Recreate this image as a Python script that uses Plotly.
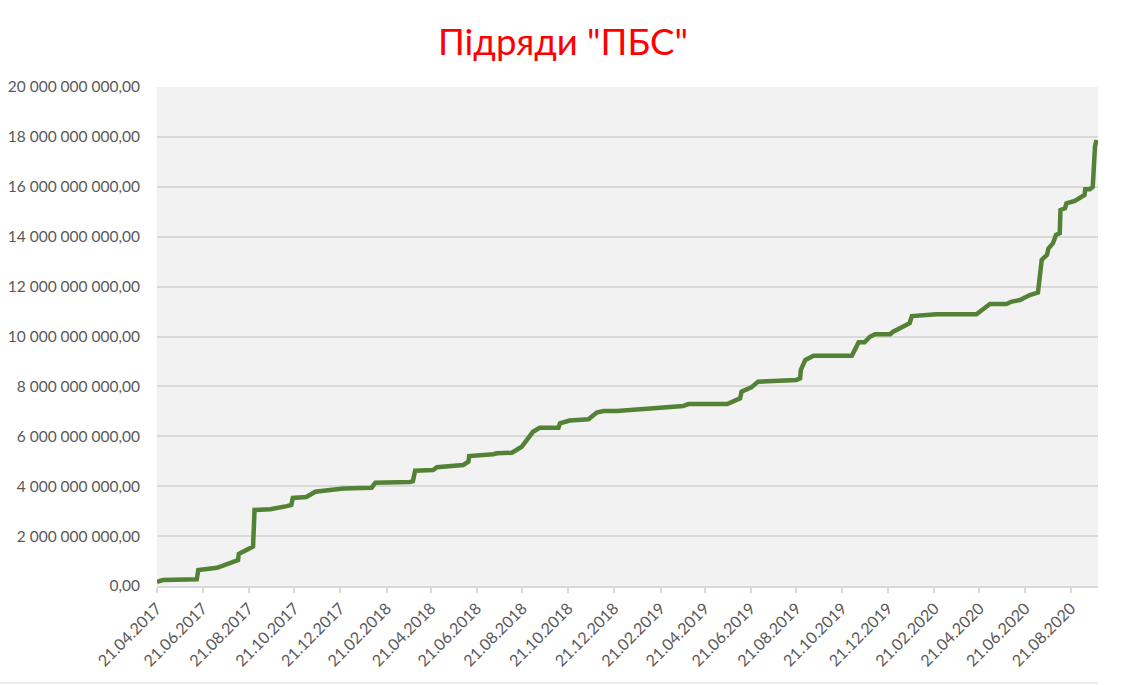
import plotly.graph_objects as go

# data (date, cumulative value in UAH)
dates = [
    "2017-04-21", "2017-04-29", "2017-06-13", "2017-06-15", "2017-07-10", "2017-08-07",
    "2017-08-08", "2017-08-27", "2017-08-29", "2017-09-19", "2017-10-11", "2017-10-17",
    "2017-10-19", "2017-11-06", "2017-11-18", "2017-12-08", "2017-12-25", "2018-02-01",
    "2018-02-06", "2018-03-24", "2018-03-28", "2018-03-31", "2018-04-24", "2018-04-29",
    "2018-05-10", "2018-06-03", "2018-06-10", "2018-06-11", "2018-07-13", "2018-07-18",
    "2018-08-07", "2018-08-20", "2018-09-04", "2018-09-13", "2018-10-08", "2018-10-10",
    "2018-10-23", "2018-11-17", "2018-11-28", "2018-12-07", "2018-12-25", "2019-01-31",
    "2019-02-25", "2019-03-23", "2019-03-30", "2019-05-21", "2019-06-07", "2019-06-09",
    "2019-06-17", "2019-06-22", "2019-07-01", "2019-07-28", "2019-08-21", "2019-08-26",
    "2019-08-27", "2019-09-02", "2019-09-13", "2019-11-03", "2019-11-12", "2019-11-20",
    "2019-11-27", "2019-12-04", "2019-12-24", "2019-12-28", "2020-01-06", "2020-01-19",
    "2020-01-22", "2020-02-24", "2020-04-17", "2020-04-22", "2020-05-05", "2020-05-27",
    "2020-06-03", "2020-06-14", "2020-06-27", "2020-07-08", "2020-07-13", "2020-07-20",
    "2020-07-22", "2020-07-28", "2020-08-01", "2020-08-06", "2020-08-07", "2020-08-13",
    "2020-08-15", "2020-08-26", "2020-09-02", "2020-09-08", "2020-09-09", "2020-09-15",
    "2020-09-19", "2020-09-21", "2020-09-22", "2020-09-24",
]
values_bn = [
    0.17, 0.24, 0.27, 0.64, 0.73, 1.04,
    1.28, 1.58, 3.05, 3.08, 3.20, 3.25,
    3.53, 3.57, 3.78, 3.87, 3.91, 3.94,
    4.14, 4.17, 4.20, 4.62, 4.65, 4.76,
    4.78, 4.85, 4.98, 5.21, 5.28, 5.32,
    5.34, 5.58, 6.18, 6.34, 6.34, 6.52,
    6.63, 6.68, 6.95, 7.01, 7.01, 7.12,
    7.15, 7.21, 7.29, 7.29, 7.52, 7.79,
    7.92, 7.96, 8.19, 8.22, 8.26, 8.32,
    8.66, 9.06, 9.23, 9.23, 9.77, 9.77,
    9.99, 10.09, 10.09, 10.19, 10.35, 10.53,
    10.82, 10.89, 10.89, 11.02, 11.30, 11.30,
    11.40, 11.46, 11.66, 11.76, 13.07, 13.27,
    13.53, 13.74, 14.07, 14.14, 15.07, 15.14,
    15.34, 15.43, 15.54, 15.67, 15.90, 15.90,
    16.00, 17.21, 17.61, 17.88,
]
values = [v * 1e9 for v in values_bn]

x_tick_vals = [
    "2017-04-21", "2017-06-21", "2017-08-21", "2017-10-21", "2017-12-21",
    "2018-02-21", "2018-04-21", "2018-06-21", "2018-08-21", "2018-10-21", "2018-12-21",
    "2019-02-21", "2019-04-21", "2019-06-21", "2019-08-21", "2019-10-21", "2019-12-21",
    "2020-02-21", "2020-04-21", "2020-06-21", "2020-08-21",
]
x_tick_text = [d[8:10] + "." + d[5:7] + "." + d[0:4] for d in x_tick_vals]

y_tick_vals = [i * 2e9 for i in range(11)]
y_tick_text = ["0,00"] + [
    "{:,}".format(int(v)).replace(",", " ") + ",00" for v in y_tick_vals[1:]
]

fig = go.Figure()
fig.add_trace(go.Scatter(
    x=dates, y=values, mode="lines",
    line=dict(color="#538135", width=4.5),
    showlegend=False,
))

fig.update_layout(
    width=1127, height=685,
    margin=dict(l=157, r=29, t=87, b=99),
    paper_bgcolor="white",
    plot_bgcolor="#f2f2f2",
    font=dict(family="Lato, Noto Sans, sans-serif", color="#595959", size=15),
    title=dict(
        text='Підряди "ПБС"',
        x=563 / 1127, xanchor="center", y=1 - 42 / 685, yanchor="middle",
        font=dict(size=36.5, color="#ff0000", family="Lato, Noto Sans, sans-serif"),
    ),
    xaxis=dict(
        type="date",
        range=["2017-04-21", "2020-09-26"],
        tickvals=x_tick_vals, ticktext=x_tick_text,
        tickangle=-45,
        showgrid=False,
        ticks="outside", ticklen=5, tickcolor="#d9d9d9", tickwidth=1.5,
        showline=True, linecolor="#d9d9d9", linewidth=1.5,
        tickfont=dict(size=16, color="#595959"),
        zeroline=False, automargin=False,
    ),
    yaxis=dict(
        range=[0, 20e9],
        tickvals=y_tick_vals, ticktext=y_tick_text,
        showgrid=True, gridcolor="#d9d9d9", gridwidth=1.5,
        zeroline=False, showline=False,
        ticks="", ticklabelstandoff=16,
        tickfont=dict(size=15.5, color="#595959"),
        automargin=False,
    ),
    shapes=[dict(
        type="line", xref="paper", yref="paper",
        x0=-157 / 941, x1=1, y0=-97 / 499, y1=-97 / 499,
        line=dict(color="#d9d9d9", width=1),
    )],
)

fig.write_html(
    "out.html",
    config={"displayModeBar": False},
    post_script="document.body.style.margin='0px';",
)
